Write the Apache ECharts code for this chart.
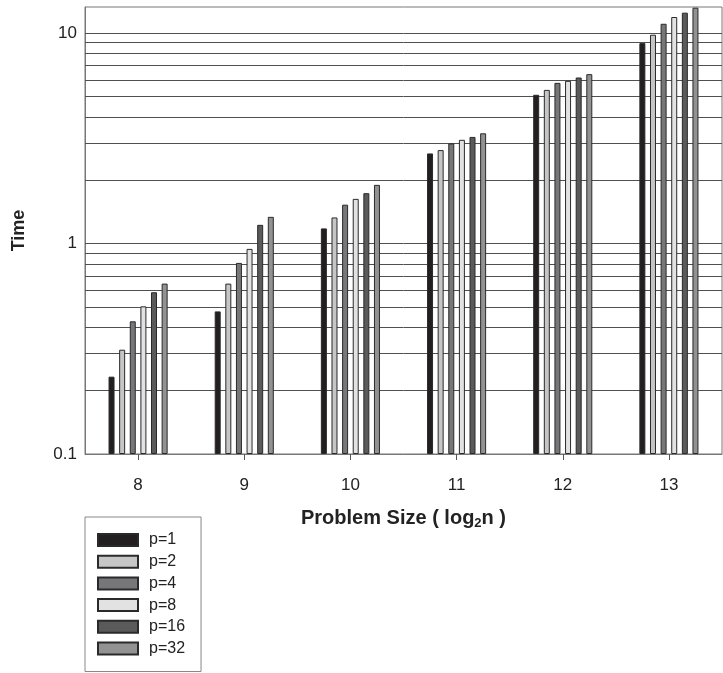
<!DOCTYPE html>
<html>
<head>
<meta charset="utf-8">
<script src="https://cdn.jsdelivr.net/npm/echarts@6/dist/echarts.min.js"></script>
<style>html,body{margin:0;padding:0;background:#fff}#c{width:723px;height:673px}</style>
</head>
<body>
<div id="c"></div>
<script>
var categories = ['8', '9', '10', '11', '12', '13'];
var seriesNames = ['p=1', 'p=2', 'p=4', 'p=8', 'p=16', 'p=32'];
var p1  = [0.233, 0.476, 1.18, 2.68, 5.09, 8.96];
var p2  = [0.313, 0.645, 1.33, 2.78, 5.37, 9.82];
var p4  = [0.427, 0.809, 1.53, 2.99, 5.80, 11.07];
var p8  = [0.503, 0.943, 1.63, 3.11, 5.93, 11.92];
var p16 = [0.587, 1.227, 1.735, 3.21, 6.15, 12.5];
var p32 = [0.645, 1.339, 1.90, 3.34, 6.38, 13.2];
var gridValues = [0.2, 0.3, 0.4, 0.5, 0.6, 0.7, 0.8, 0.9, 1, 2, 3, 4, 5, 6, 7, 8, 9, 10];
var yMin = 0.1, yMax = 13.3;

var colors = ['#231f20', '#c6c6c6', '#77777a', '#e2e2e2', '#5a5a5a', '#929292'];
var allData = [p1, p2, p4, p8, p16, p32];
var FONT = '"Liberation Sans", Arial, sans-serif';

var chart = echarts.init(document.getElementById('c'), null, {renderer: 'canvas'});
var series = allData.map(function (d, i) {
  var s = {
    name: seriesNames[i],
    type: 'bar',
    data: d,
    barWidth: 6,
    barGap: '77%',
    itemStyle: {color: colors[i], borderColor: '#2a2a2a', borderWidth: 1},
    emphasis: {disabled: true},
    animation: false
  };
  if (i === 0) {
    s.markLine = {
      z: 1,
      silent: true,
      symbol: 'none',
      label: {show: false},
      lineStyle: {color: '#505050', width: 1, type: 'solid'},
      animation: false,
      data: gridValues.map(function (v) { return {yAxis: v}; })
    };
  }
  return s;
});

chart.setOption({
  animation: false,
  backgroundColor: '#fff',
  textStyle: {fontFamily: FONT},
  grid: {left: 85, top: 7, right: 1, bottom: 219, show: true, borderColor: '#777', borderWidth: 1, backgroundColor: 'transparent'},
  legend: {
    orient: 'vertical',
    left: 85,
    top: 517,
    itemWidth: 40,
    itemHeight: 12,
    itemGap: 5.7,
    padding: [15, 16, 15, 12],
    borderColor: '#888',
    borderWidth: 1,
    icon: 'rect',
    textStyle: {fontSize: 16, color: '#222', fontFamily: FONT, padding: [0, 0, 0, 6]},
    data: seriesNames
  },
  xAxis: {
    type: 'category',
    data: categories,
    name: '{a|Problem Size ( log}{s|2}{a|n )}',
    nameLocation: 'middle',
    nameGap: 53,
    nameTextStyle: {
      rich: {
        a: {fontSize: 20, fontWeight: 'bold', color: '#222', fontFamily: FONT},
        s: {fontSize: 13, fontWeight: 'bold', color: '#222', fontFamily: FONT, padding: [10, 0, 0, 0]}
      }
    },
    axisLine: {show: true, lineStyle: {color: '#777', width: 1}},
    axisTick: {show: true, alignWithLabel: true, length: 6, lineStyle: {color: '#555'}},
    axisLabel: {fontSize: 17, color: '#222', margin: 23, fontFamily: FONT},
    splitLine: {show: false}
  },
  yAxis: {
    type: 'log',
    logBase: 10,
    min: yMin,
    max: yMax,
    startValue: yMin,
    name: 'Time',
    nameLocation: 'middle',
    nameGap: 57,
    nameTextStyle: {fontSize: 18, fontWeight: 'bold', color: '#222', fontFamily: FONT},
    axisLine: {show: true, lineStyle: {color: '#777', width: 1}},
    axisTick: {show: false},
    axisLabel: {fontSize: 17, color: '#222', margin: 8, showMaxLabel: false, fontFamily: FONT,
      formatter: function (v) { return String(+v.toPrecision(3)); }},
    splitLine: {show: false}
  },
  series: series
});
</script>
</body>
</html>
